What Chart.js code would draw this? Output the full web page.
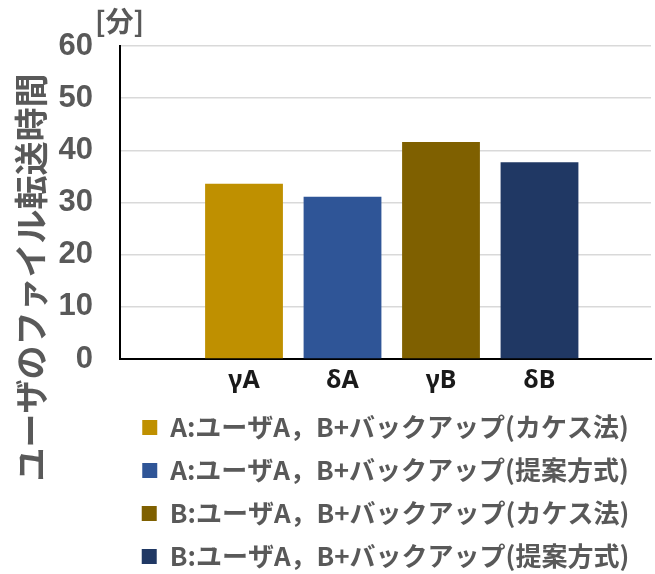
<!DOCTYPE html>
<html>
<head>
<meta charset="utf-8">
<script src="https://cdn.jsdelivr.net/npm/chart.js@4.4.1/dist/chart.umd.min.js"></script>
<style>
  html, body { margin: 0; padding: 0; background: #ffffff; }
  #wrap { width: 655px; height: 574px; position: relative; }
</style>
</head>
<body>
<div id="wrap"><canvas id="c"></canvas></div>
<script>
// ---- data ----
const xLabels = ['γA', 'δA', 'γB', 'δB'];
const seriesNames = [
  'A:ユーザA，B+バックアップ(カケス法)',
  'A:ユーザA，B+バックアップ(提案方式)',
  'B:ユーザA，B+バックアップ(カケス法)',
  'B:ユーザA，B+バックアップ(提案方式)'
];
const seriesValues = [33.6, 31.1, 41.6, 37.7];
const yMin = 0, yMax = 60, yStep = 10;
const yTitle = 'ユーザのファイル転送時間';
const unitLabel = '[分]';

// ---- styles ----
const seriesColors = ['#BF9000', '#2F5597', '#7F6000', '#203864'];
const grayText = '#595959';

const axisTexts = {
  id: 'axisTexts',
  afterDraw(chart) {
    const { ctx, chartArea } = chart;
    ctx.save();
    ctx.fillStyle = grayText;
    ctx.font = "bold 28px 'Noto Sans CJK JP'";
    ctx.textAlign = 'left';
    ctx.textBaseline = 'middle';
    ctx.fillText(unitLabel, chartArea.left - 25, chartArea.top - 25);
    ctx.translate(31, 277.5);
    ctx.rotate(-Math.PI / 2);
    ctx.font = "bold 34px 'Noto Sans CJK JP'";
    ctx.textAlign = 'center';
    ctx.fillText(yTitle, 0, 0);
    ctx.restore();
  }
};

const datasets = seriesNames.map((name, i) => ({
  label: name,
  data: [{ x: i + 1, y: seriesValues[i] }],
  backgroundColor: seriesColors[i],
  borderWidth: 0
}));

new Chart(document.getElementById('c'), {
  type: 'bar',
  data: { datasets },
  plugins: [axisTexts],
  options: {
    responsive: true,
    maintainAspectRatio: false,
    animation: false,
    grouped: false,
    barPercentage: 0.79,
    categoryPercentage: 1,
    layout: { padding: { top: 46, right: 4, bottom: -5.5, left: 58 } },
    plugins: {
      tooltip: { enabled: false },
      title: { display: false },
      legend: {
        display: true,
        position: 'bottom',
        align: 'center',
        fullSize: false,
        labels: {
          boxWidth: 15,
          boxHeight: 15,
          padding: 17,
          color: grayText,
          font: { family: "'Noto Sans CJK JP'", size: 26, weight: 'bold' }
        }
      }
    },
    scales: {
      x: {
        type: 'linear',
        offset: false,
        min: -0.259,
        max: 5.132,
        afterBuildTicks: (scale) => {
          scale.ticks = xLabels.map((_, i) => ({ value: i + 1 }));
        },
        afterFit: (scale) => { scale.height = 38.5; },
        grid: { display: false, drawTicks: false },
        border: { display: true, color: '#000000', width: 2 },
        ticks: {
          autoSkip: false,
          maxRotation: 0,
          padding: 7,
          color: '#1a1a1a',
          font: { family: "'Noto Sans', 'Liberation Sans'", size: 25, weight: 'bold' },
          callback: (v) => xLabels[v - 1] ?? ''
        }
      },
      y: {
        min: yMin,
        max: yMax,
        afterFit: (scale) => { scale.width = 62; },
        grid: { color: '#d9d9d9', lineWidth: 1.5, drawTicks: false },
        border: { display: true, color: '#000000', width: 2 },
        ticks: {
          stepSize: yStep,
          padding: 27,
          color: grayText,
          font: { family: "'Liberation Sans'", size: 31, weight: 'bold' }
        }
      }
    }
  }
});
</script>
</body>
</html>
